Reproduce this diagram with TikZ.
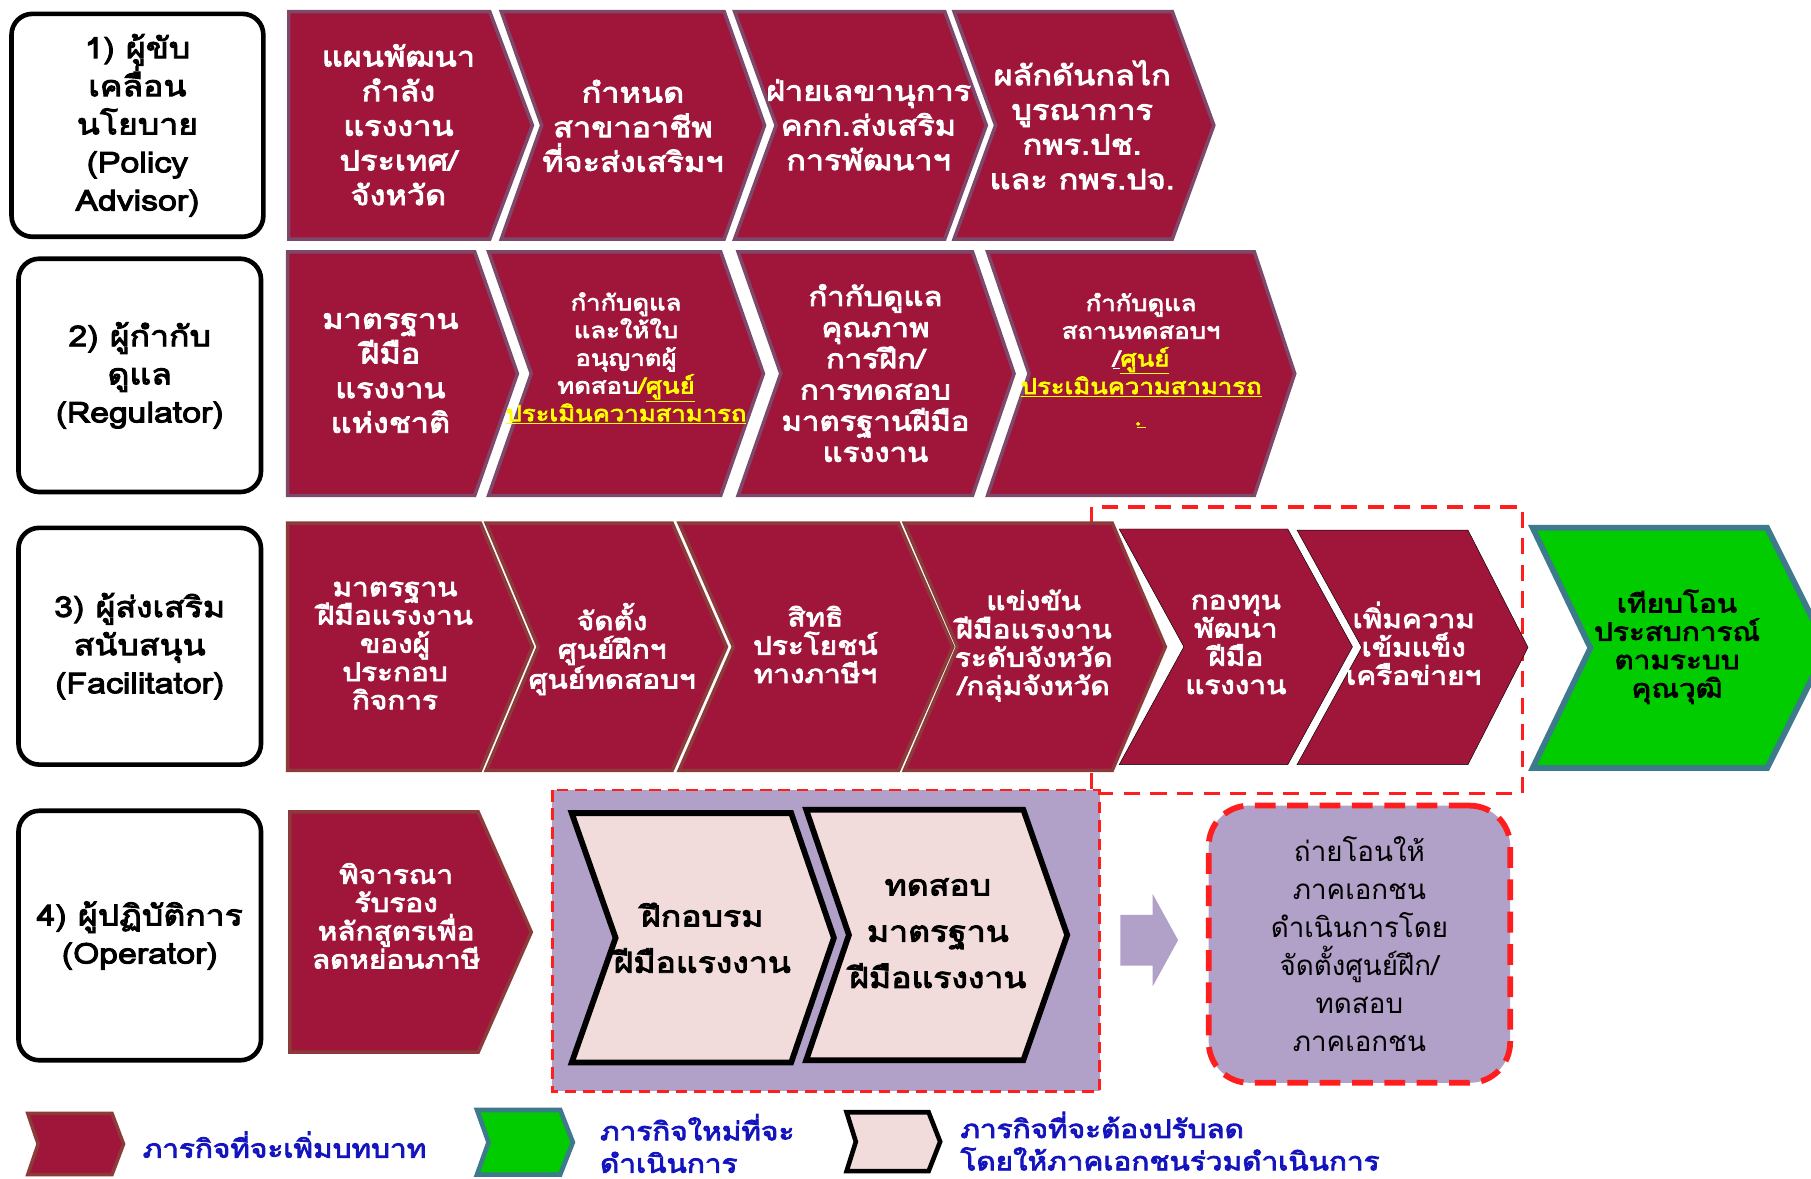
\documentclass[tikz,border=0pt]{standalone}
\usepackage{fontspec}
\setmainfont{Loma}[Script=Thai, BoldFont={Loma},
  BoldFeatures={FakeBold=3.2, FakeStretch=1.17}]
\usepackage{xcolor}
\usepackage{tikz}
\usetikzlibrary{calc}
\definecolor{crimson}{RGB}{160,21,58}
\definecolor{plumLine}{RGB}{125,72,105}
\definecolor{brownLine}{RGB}{140,58,58}
\definecolor{newGreen}{RGB}{0,204,0}
\definecolor{tealLine}{RGB}{60,122,140}
\definecolor{cutPink}{RGB}{242,220,219}
\definecolor{lavender}{RGB}{177,160,199}
\definecolor{dashRed}{RGB}{255,30,30}
\definecolor{legendBlue}{RGB}{20,20,190}
\definecolor{hiYellow}{RGB}{255,255,0}
% chevron: style, left, top, shoulder, bottom, tip depth, notch depth
\newcommand{\chevshape}[7]{%
  \draw[#1] (#2,#3) -- (#4,#3) -- ({#4+#6},{(#3+#5)/2}) -- (#4,#5)
    -- (#2,#5) -- ({#2+#7},{(#3+#5)/2}) -- cycle;}
\tikzset{%
  roleBox/.style = {rectangle, rounded corners=18pt, draw=black,
      line width=4pt, fill=white, minimum width=210pt, align=center,
      font=\bfseries\fontsize{25}{33}\selectfont},
  plumTask/.style = {fill=crimson, draw=plumLine, line width=3pt},
  brownTask/.style = {fill=crimson, draw=brownLine, line width=3pt},
  plainTask/.style = {fill=crimson},
  newTask/.style = {fill=newGreen, draw=tealLine, line width=5pt},
  cutTask/.style = {fill=cutPink, draw=black, line width=5pt},
  taskText/.style = {text=white, align=center,
      font=\bfseries\fontsize{24}{30}\selectfont},
  smallText/.style = {taskText, font=\bfseries\fontsize{19}{24}\selectfont},
  tightText/.style = {taskText, font=\bfseries\fontsize{22}{24.5}\selectfont},
  newText/.style = {tightText, text=black},
  cutText/.style = {align=center, font=\bfseries\fontsize{25}{40}\selectfont},
  handover/.style = {rectangle, rounded corners=35pt, fill=lavender,
      draw=dashRed, line width=5pt, dash pattern=on 18pt off 10pt,
      minimum width=261pt, minimum height=240pt, align=center,
      font=\fontsize{24}{33}\selectfont},
  groupFrame/.style = {fill=lavender, draw=dashRed, line width=2.5pt,
      dash pattern=on 10pt off 6pt},
  netFrame/.style = {draw=dashRed, line width=3pt, dash pattern=on 14pt off 9pt},
  legendText/.style = {anchor=west, align=left, text=legendBlue,
      font=\bfseries\fontsize{22}{28}\selectfont},
}

\begin{document}
\begin{tikzpicture}[x=1pt, y=-1pt]
  \clip (0,0) rectangle (1568,1020);
  % frame round the network tasks (drawn first, chevrons cover it)
  \draw[netFrame] (945,439) rectangle (1318,687);

  % Specification of the role boxes
  \node (policy)      [roleBox, minimum width=218pt, minimum height=193pt]
                      at (119,108.5) {1) ผู้ขับ\\เคลื่อน\\นโยบาย\\(Policy\\Advisor)};
  \node (regulator)   [roleBox, minimum height=202pt] at (121,325)
                      {2) ผู้กำกับ\\ดูแล\\(Regulator)};
  \node (facilitator) [roleBox, minimum height=205pt] at (121,559.5)
                      {3) ผู้ส่งเสริม\\สนับสนุน\\(Facilitator)};
  \node (operator)    [roleBox, minimum height=216pt] at (121,810)
                      {4) ผู้ปฏิบัติการ\\(Operator)};

  % row 1
  \chevshape{plumTask}{250}{10}{424}{207}{37}{0}
  \chevshape{plumTask}{434}{10}{627}{207}{35}{35}
  \chevshape{plumTask}{636}{10}{818}{207}{36}{36}
  \chevshape{plumTask}{826}{10}{1015}{207}{36}{36}
  \node (laborPlan)  [taskText] at (345,108) {แผนพัฒนา\\กำลัง\\แรงงาน\\ประเทศ/\\จังหวัด};
  \node (setFields)  [taskText] at (548,109) {กำหนด\\สาขาอาชีพ\\ที่จะส่งเสริมฯ};
  \node (secretary)  [taskText] at (752,108) {ฝ่ายเลขานุการ\\คกก.ส่งเสริม\\การพัฒนาฯ};
  \node (integrate)  [taskText] at (937,108) {ผลักดันกลไก\\บูรณาการ\\กพร.ปช.\\และ กพร.ปจ.};

  % row 2
  \chevshape{plumTask}{249}{218}{411}{429}{37}{0}
  \chevshape{plumTask}{423}{218}{624}{429}{37}{37}
  \chevshape{plumTask}{639}{218}{842}{429}{36}{37}
  \chevshape{plumTask}{855}{218}{1086}{429}{35}{36}
  \node (natStandard) [taskText] at (338,323) {มาตรฐาน\\ฝีมือ\\แรงงาน\\แห่งชาติ};
  \node (licence)     [smallText] at (542,310)
      {กำกับดูแล\\และให้ใบ\\อนุญาตผู้\\ทดสอบ{\color{hiYellow}/\underline{ศูนย์}}\\{\color{hiYellow}\underline{ประเมินความสามารถ}}};
  \node (quality)     [taskText, font=\bfseries\fontsize{23}{27}\selectfont] at (758,323)
      {กำกับดูแล\\คุณภาพ\\การฝึก/\\การทดสอบ\\มาตรฐานฝีมือ\\แรงงาน};
  \node (testCentre)  [smallText] at (988,312)
      {กำกับดูแล\\สถานทดสอบฯ\\\underline{/}{\color{hiYellow}\underline{ศูนย์}}\\{\color{hiYellow}\underline{ประเมินความสามารถ}}\\{\color{hiYellow}\underline{\kern4pt ฺ\kern4pt}}};

  % row 3
  \chevshape{brownTask}{249}{453}{416}{667}{45}{0}
  \chevshape{brownTask}{421}{453}{582}{667}{47}{45}
  \chevshape{brownTask}{588}{453}{778}{667}{47}{47}
  \chevshape{brownTask}{783}{453}{963}{667}{46}{46}
  \chevshape{plainTask}{969}{458}{1115}{662}{56}{56}
  \chevshape{plainTask}{1123}{459}{1271}{662}{52}{56}
  \chevshape{newTask}{1327}{457}{1530}{665}{52}{50}
  \node (firmStandard) [tightText] at (342,559) {มาตรฐาน\\ฝีมือแรงงาน\\ของผู้\\ประกอบ\\กิจการ};
  \node (setCentres)   [tightText] at (530,562) {จัดตั้ง\\ศูนย์ฝึกฯ\\ศูนย์ทดสอบฯ};
  \node (taxBenefit)   [tightText] at (706,558) {สิทธิ\\ประโยชน์\\ทางภาษีฯ};
  \node (contest)      [tightText] at (895,559) {แข่งขัน\\ฝีมือแรงงาน\\ระดับจังหวัด\\/กลุ่มจังหวัด};
  \node (fund)         [tightText] at (1070,558) {กองทุน\\พัฒนา\\ฝีมือ\\แรงงาน};
  \node (network)      [tightText] at (1224,557) {เพิ่มความ\\เข้มแข็ง\\เครือข่ายฯ};
  \node (transfer)     [newText] at (1452,560) {เทียบโอน\\ประสบการณ์\\ตามระบบ\\คุณวุฒิ};

  % row 4
  \chevshape{brownTask}{251}{703}{414}{911}{46}{0}
  \node (courses) [tightText] at (343,793) {พิจารณา\\รับรอง\\หลักสูตรเพื่อ\\ลดหย่อนภาษี};
  \draw[groupFrame] (478,684) rectangle (952,945);
  \chevshape{cutTask}{495}{704}{685}{920}{37}{38}
  \chevshape{cutTask}{698}{701}{886}{918}{38}{37}
  \node (training) [cutText] at (608,812) {ฝึกอบรม\\ฝีมือแรงงาน};
  \node (testing)  [cutText] at (812,808) {ทดสอบ\\มาตรฐาน\\ฝีมือแรงงาน};
  \fill[lavender] (970,792) -- (998,792) -- (998,774) -- (1020,814)
                  -- (998,854) -- (998,836) -- (970,836) -- cycle;
  \node (private) [handover] at (1177,817.5)
      {ถ่ายโอนให้\\ภาคเอกชน\\ดำเนินการโดย\\จัดตั้งศูนย์ฝึก/\\ทดสอบ\\ภาคเอกชน};

  % legend
  \chevshape{brownTask}{24}{964}{97}{1017}{10}{9}
  \chevshape{newTask, line width=4pt}{413}{961}{485}{1017}{11}{10}
  \chevshape{cutTask, line width=4pt}{733}{963}{804}{1014}{10}{8}
  \node (legAdd) [legendText] at (120,991) {ภารกิจที่จะเพิ่มบทบาท};
  \node (legNew) [legendText] at (516,990) {ภารกิจใหม่ที่จะ\\ดำเนินการ};
  \node (legCut) [legendText] at (828,988) {ภารกิจที่จะต้องปรับลด\\โดยให้ภาคเอกชนร่วมดำเนินการ};
\end{tikzpicture}
\end{document}
